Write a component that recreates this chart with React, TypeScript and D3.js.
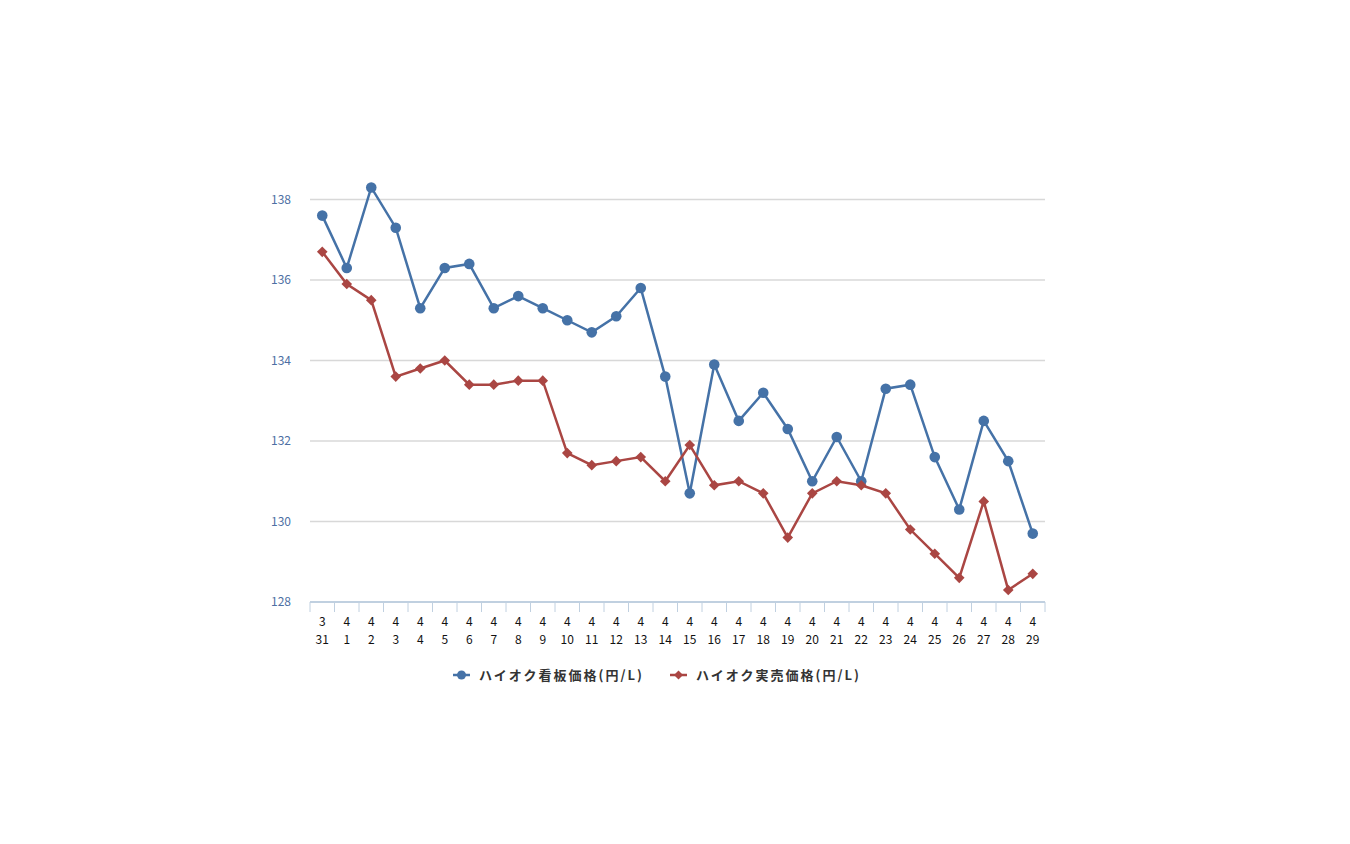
import React from "react";
import * as d3 from "d3";

const months = ["3","4","4","4","4","4","4","4","4","4","4","4","4","4","4","4","4","4","4","4","4","4","4","4","4","4","4","4","4","4"];
const days = ["31","1","2","3","4","5","6","7","8","9","10","11","12","13","14","15","16","17","18","19","20","21","22","23","24","25","26","27","28","29"];
const signPrice = [137.6,136.3,138.3,137.3,135.3,136.3,136.4,135.3,135.6,135.3,135.0,134.7,135.1,135.8,133.6,130.7,133.9,132.5,133.2,132.3,131.0,132.1,131.0,133.3,133.4,131.6,130.3,132.5,131.5,129.7];
const actualPrice = [136.7,135.9,135.5,133.6,133.8,134.0,133.4,133.4,133.5,133.5,131.7,131.4,131.5,131.6,131.0,131.9,130.9,131.0,130.7,129.6,130.7,131.0,130.9,130.7,129.8,129.2,128.6,130.5,128.3,128.7];
const yTicks = [128,130,132,134,136,138];
const seriesNames = ["ハイオク看板価格(円/L)", "ハイオク実売価格(円/L)"];

const BLUE = "#4572a7";
const RED = "#aa4643";

export default function App() {
  const W = 1350, H = 844;
  const left = 310, right = 1045, bottom = 602;
  const idx = days.map((_, i) => i);
  const x = d3.scaleBand<number>().domain(idx).range([left, right]);
  const y = d3.scaleLinear().domain([128, 139]).range([bottom, bottom - 11 * 40.25]);
  const cx = (i: number) => (x(i) as number) + x.bandwidth() / 2;
  const line = d3.line<number>().x((_, i) => cx(i)).y((v) => y(v));
  const font = "'Noto Sans CJK JP', 'Noto Sans', sans-serif";
  const diamond = (px: number, py: number, r: number) =>
    `M${px},${py - r}L${px + r},${py}L${px},${py + r}L${px - r},${py}Z`;

  return (
    <svg width={W} height={H} style={{ position: "absolute", left: 0, top: 0, background: "#fff" }}>
      {yTicks.slice(1).map((t) => (
        <line key={t} x1={left} x2={right} y1={y(t)} y2={y(t)} stroke="#d8d8d8" strokeWidth={1.5} />
      ))}
      {yTicks.map((t) => (
        <text key={"l" + t} x={291} y={y(t) + 4} textAnchor="end" fontSize={12} fill="#4d6fa3" fontFamily={font}>
          {t}
        </text>
      ))}
      <line x1={left} x2={right} y1={bottom} y2={bottom} stroke="#c0d0e0" strokeWidth={2} />
      {[...idx, days.length].map((i) => {
        const xx = i < days.length ? (x(i) as number) : right;
        return <line key={"t" + i} x1={xx} x2={xx} y1={bottom} y2={bottom + 10} stroke="#c0d0e0" strokeWidth={1} />;
      })}
      {idx.map((i) => (
        <g key={"x" + i}>
          <text x={cx(i)} y={626} textAnchor="middle" fontSize={12} fill="#111" fontFamily={font}>{months[i]}</text>
          <text x={cx(i)} y={644} textAnchor="middle" fontSize={12} fill="#111" fontFamily={font}>{days[i]}</text>
        </g>
      ))}
      <path d={line(signPrice) || ""} fill="none" stroke={BLUE} strokeWidth={2.5} />
      <path d={line(actualPrice) || ""} fill="none" stroke={RED} strokeWidth={2.5} />
      {signPrice.map((v, i) => (
        <circle key={"b" + i} cx={cx(i)} cy={y(v)} r={5.3} fill={BLUE} />
      ))}
      {actualPrice.map((v, i) => (
        <path key={"r" + i} d={diamond(cx(i), y(v), 5.3)} fill={RED} />
      ))}
      <g>
        <line x1={453} x2={470} y1={675} y2={675} stroke={BLUE} strokeWidth={2.5} />
        <circle cx={461.5} cy={675} r={4.5} fill={BLUE} />
        <text x={479} y={680} fontSize={13} fontWeight="bold" fill="#333" fontFamily={font} letterSpacing={2}>{seriesNames[0]}</text>
        <line x1={670} x2={687} y1={675} y2={675} stroke={RED} strokeWidth={2.5} />
        <path d={diamond(678.5, 675, 4.5)} fill={RED} />
        <text x={696} y={680} fontSize={13} fontWeight="bold" fill="#333" fontFamily={font} letterSpacing={2}>{seriesNames[1]}</text>
      </g>
    </svg>
  );
}
